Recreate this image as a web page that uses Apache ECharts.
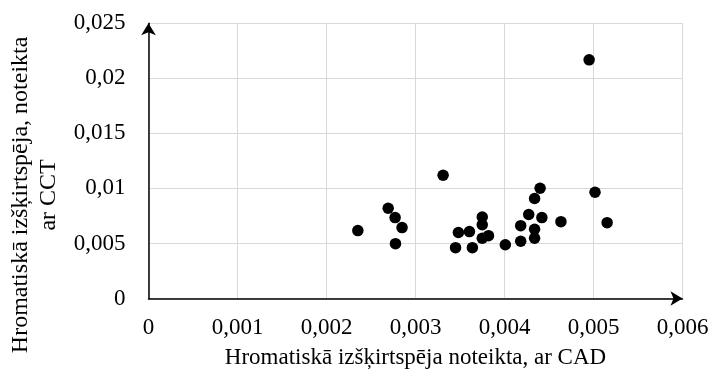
<!DOCTYPE html>
<html>
<head>
<meta charset="utf-8">
<script src="https://cdn.jsdelivr.net/npm/echarts@6/dist/echarts.min.js"></script>
<style>html,body{margin:0;padding:0;background:#fff;}#c{width:714px;height:376px;}</style>
</head>
<body>
<div id="c"></div>
<script>
var xValues = [2.352, 2.693, 2.771, 2.849, 2.775, 3.310, 3.450, 3.482, 3.606, 3.639, 3.750, 3.750, 3.750, 3.820, 4.009, 4.182, 4.182, 4.272, 4.338, 4.400, 4.338, 4.338, 4.420, 4.634, 5.017, 5.153, 4.951];
var yValues = [6.17, 8.20, 7.35, 6.44, 4.98, 11.20, 4.62, 6.00, 6.08, 4.62, 7.40, 6.70, 5.47, 5.71, 4.88, 6.62, 5.20, 7.63, 9.08, 10.02, 6.29, 5.47, 7.35, 6.98, 9.65, 6.89, 21.68];
var xTitle = 'Hromatiskā izšķirtspēja noteikta, ar CAD';
var yTitle = 'Hromatiskā izšķirtspēja, noteikta\nar CCT';

var points = xValues.map(function (x, i) { return [x / 1000, yValues[i] / 1000]; });
function fmt(v) { return parseFloat(v.toFixed(4)).toString().replace('.', ','); }
var font = '"Liberation Serif", "Times New Roman", serif';

var chart = echarts.init(document.getElementById('c'));
chart.setOption({
  animation: false,
  backgroundColor: '#ffffff',
  textStyle: { fontFamily: font },
  grid: { left: 148.5, right: 31.5, top: 23.3, bottom: 77.5, containLabel: false, outerBoundsMode: 'none' },
  xAxis: {
    type: 'value', min: 0, max: 0.006, interval: 0.001,
    name: xTitle, nameLocation: 'middle', nameGap: 48,
    nameTextStyle: { fontFamily: font, fontSize: 23, color: '#000' },
    axisLine: { show: true, onZero: false, symbol: ['none', 'arrow'], symbolSize: [11, 12], lineStyle: { color: '#000', width: 1.5 } },
    axisTick: { show: false },
    axisLabel: { formatter: fmt, fontFamily: font, fontSize: 23, color: '#000', margin: 18 },
    splitLine: { show: true, lineStyle: { color: '#d9d9d9', width: 1 } }
  },
  yAxis: {
    type: 'value', min: 0, max: 0.025, interval: 0.005,
    name: yTitle, nameLocation: 'middle', nameGap: 86, nameRotate: 90,
    nameTextStyle: { fontFamily: font, fontSize: 24, color: '#000', lineHeight: 28, align: 'center', padding: [0, 68, 0, 0] },
    axisLine: { show: true, onZero: false, symbol: ['none', 'arrow'], symbolSize: [11, 12], lineStyle: { color: '#000', width: 1.5 } },
    axisTick: { show: false },
    axisLabel: { formatter: fmt, fontFamily: font, fontSize: 23, color: '#000', margin: 23 },
    splitLine: { show: true, lineStyle: { color: '#d9d9d9', width: 1 } }
  },
  series: [{
    type: 'scatter',
    data: points,
    symbol: 'circle',
    symbolSize: 11.5,
    itemStyle: { color: '#000', opacity: 1 }
  }]
});
</script>
</body>
</html>
